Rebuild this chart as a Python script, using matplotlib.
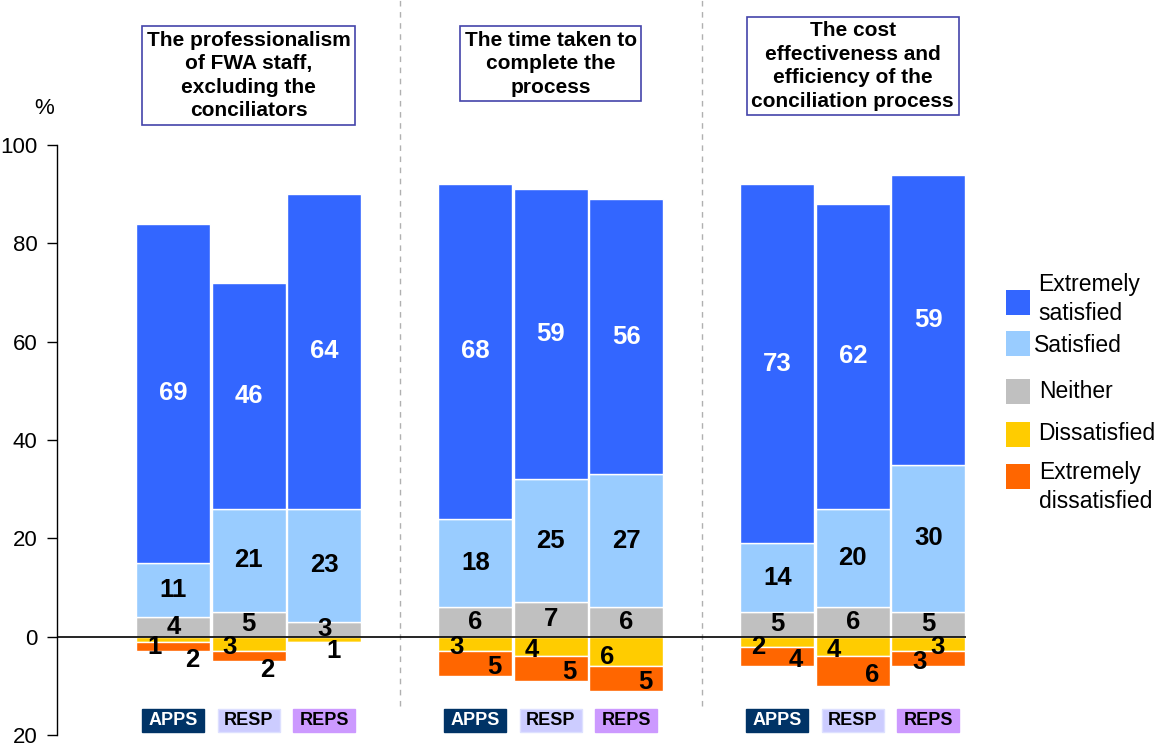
import matplotlib
matplotlib.use('Agg')
import matplotlib.pyplot as plt
from matplotlib.patches import Rectangle
import matplotlib.transforms as mtransforms

plt.rcParams['font.family'] = ['Liberation Sans', 'DejaVu Sans']

# ---------------- data ----------------
groups = ["The professionalism\nof FWA staff,\nexcluding the\nconciliators",
          "The time taken to\ncomplete the\nprocess",
          "The cost\neffectiveness and\nefficiency of the\nconciliation process"]
respondents = ["APPS", "RESP", "REPS"]
neither          = [4, 5, 3,   6, 7, 6,   5, 6, 5]
satisfied        = [11, 21, 23, 18, 25, 27, 14, 20, 30]
ext_satisfied    = [69, 46, 64, 68, 59, 56, 73, 62, 59]
dissatisfied     = [1, 3, 1,   3, 4, 6,   2, 4, 3]
ext_dissatisfied = [2, 2, 0,   5, 5, 5,   4, 6, 3]
legend_labels = ["Extremely\nsatisfied", "Satisfied", "Neither", "Dissatisfied", "Extremely\ndissatisfied"]
yticks = [-20, 0, 20, 40, 60, 80, 100]

# ---------------- style ----------------
c_ext_sat = '#3366FF'
c_sat = '#99CCFF'
c_nei = '#C0C0C0'
c_dis = '#FFCC00'
c_ext_dis = '#FF6600'
resp_bg = ['#003366', '#CCCCFF', '#CC99FF']
resp_fg = ['white', 'black', 'black']
resp_edge = ['#003366', '#DDE0FF', '#CC99FF']

fig = plt.figure(figsize=(11.63, 7.47), dpi=100)
ax = fig.add_axes([57/1163, 1-735/747, (966-57)/1163, 590/747])

xs = []
for g in range(3):
    for r in range(3):
        xs.append(g*4 + r)

w = 0.98
kw = dict(width=w, edgecolor='white', linewidth=1)
nei = neither
sat = satisfied
es = ext_satisfied
b1 = [n + s for n, s in zip(nei, sat)]
ax.bar(xs, nei, bottom=0, color=c_nei, **kw)
ax.bar(xs, sat, bottom=nei, color=c_sat, **kw)
ax.bar(xs, es, bottom=b1, color=c_ext_sat, **kw)
ax.bar(xs, [-d for d in dissatisfied], bottom=0, color=c_dis, **kw)
ax.bar(xs, [-e for e in ext_dissatisfied], bottom=[-d for d in dissatisfied], color=c_ext_dis, **kw)

lab_kw = dict(ha='center', va='center', fontsize=18.5, fontweight='bold')
for i, x in enumerate(xs):
    ax.text(x, nei[i]/2, str(nei[i]), color='black', **lab_kw)
    ax.text(x, nei[i] + sat[i]/2, str(sat[i]), color='black', **lab_kw)
    ax.text(x, b1[i] + es[i]/2, str(es[i]), color='white', **lab_kw)
    d = dissatisfied[i]
    e = ext_dissatisfied[i]
    swap = (i == 8)
    if d > 0:
        dx = -0.25 if e > 0 else 0.12
        dy = -max(0.7*d, 2.0) if e > 0 else -2.9
        if swap:
            dx = 0.12
        ax.text(x + dx, dy, str(d), color='black', **lab_kw)
    if e > 0:
        ey = -(d + e/2) - 0.7 if e >= 3 else -(d + e) - 1.8
        ex = -0.12 if swap else 0.25
        ax.text(x + ex, ey, str(e), color='black', **lab_kw)

ax.axhline(0, color='black', linewidth=1.2, zorder=5)

ax.set_xlim(-1.54, 10.5)
ax.set_ylim(-20, 100)
ax.set_yticks(yticks)
ax.set_yticklabels([str(abs(t)) for t in yticks], fontsize=16)
ax.tick_params(axis='y', direction='out', length=7, width=1, pad=7)
ax.set_xticks([])
for s in ['top', 'right', 'bottom']:
    ax.spines[s].set_visible(False)
ax.spines['left'].set_linewidth(1)

# separators
trans = mtransforms.blended_transform_factory(ax.transData, ax.transAxes)
for sx in [3, 7]:
    ax.plot([sx, sx], [0.05, 1.25], transform=trans, clip_on=False,
            color='#B0B0B0', linestyle=(0, (4, 4)), linewidth=1)

# group titles
title_y = [114.1, 116.5, 116.1]
for g in range(3):
    ax.text(g*4 + 1, title_y[g], groups[g], ha='center', va='center', fontsize=15,
            fontweight='bold', linespacing=1.3, clip_on=False,
            bbox=dict(boxstyle='square,pad=0.22', facecolor='white', edgecolor='#4444AA', linewidth=1.2))

# respondent labels
for i, x in enumerate(xs):
    r = i % 3
    ax.add_patch(Rectangle((x - 0.41, -19.3), 0.82, 4.6, facecolor=resp_bg[r],
                           edgecolor=resp_edge[r], linewidth=1, clip_on=False, zorder=3))
    ax.text(x, -17.0, respondents[r], ha='center', va='center', fontsize=13,
            fontweight='bold', color=resp_fg[r], clip_on=False, zorder=4)

# % label
fig.text(44/1163, 1-108/747, '%', ha='center', va='center', fontsize=16)

# legend
leg_colors = [c_ext_sat, c_sat, c_nei, c_dis, c_ext_dis]
sq_y = [302, 344, 391, 434, 476]
tx_y = [299, 346, 392, 433, 487]
tx_x = [1038, 1034, 1039, 1038, 1039]
for k in range(5):
    fig.patches.append(Rectangle((1006/1163, 1-(sq_y[k]+12.5)/747), 24/1163, 25/747,
                                 facecolor=leg_colors[k], edgecolor='none',
                                 transform=fig.transFigure, figure=fig))
    fig.text(tx_x[k]/1163, 1-tx_y[k]/747, legend_labels[k], ha='left', va='center',
             fontsize=16.5, linespacing=1.3)

fig.savefig('out.png', dpi=100)
